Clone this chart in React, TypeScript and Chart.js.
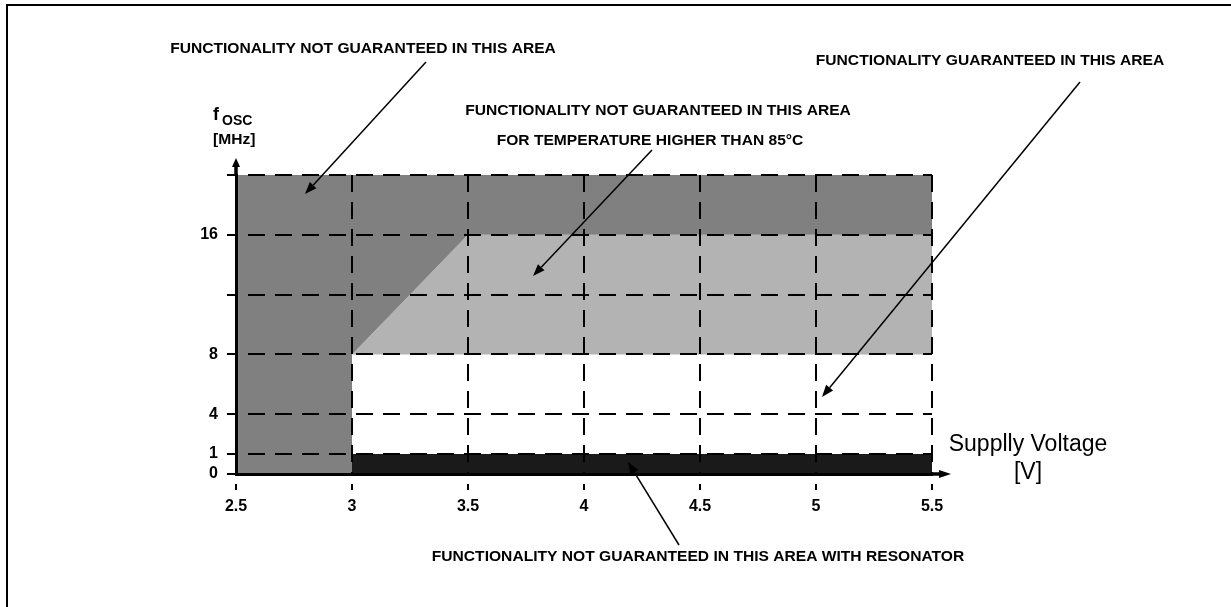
import React, { useEffect, useRef } from 'react';
import { Chart, registerables, LinearScale } from 'chart.js';

Chart.register(...registerables);

// ---------------- Data ----------------
const voltageTicks = [2.5, 3, 3.5, 4, 4.5, 5, 5.5];
const freqTicks = [0, 1, 4, 8, 12, 16, 20];
const freqTickLabels = ['0', '1', '4', '8', '', '16', ''];

// "Functionality not guaranteed" region: lower/right boundary, filled up to fMax
const notGuaranteedV = [2.5, 3, 3, 3.5, 5.5];
const notGuaranteedF = [0, 0, 8, 16, 16];
const fMax = 20;

// "Not guaranteed for temperature > 85°C" region: upper boundary, filled down to highTempFloor
const highTempV = [3, 3.5, 5.5];
const highTempF = [8, 16, 16];
const highTempFloor = 8;

// "Not guaranteed with resonator" region: 0..1 MHz
const resonatorV = [3, 5.5];
const resonatorF = [1, 1];
const resonatorFloor = 0;

const calloutTexts = [
  'FUNCTIONALITY NOT GUARANTEED IN THIS AREA',
  'FUNCTIONALITY NOT GUARANTEED IN THIS AREA',
  'FOR TEMPERATURE HIGHER THAN 85°C',
  'FUNCTIONALITY GUARANTEED IN THIS AREA',
  'FUNCTIONALITY NOT GUARANTEED IN THIS AREA WITH RESONATOR',
];

// ---------------- Layout (not data) ----------------
// relative position of each freq tick along the (non-linear) axis
const AXIS_STOPS = [0, 1, 3, 6, 9, 12, 15];
const FONT = '"Liberation Sans", Arial, Helvetica, sans-serif';
const TEXT_POS = [
  { x: 363, y: 53 },
  { x: 658, y: 115 },
  { x: 650, y: 145 },
  { x: 990, y: 65 },
  { x: 698, y: 561 },
];
const ARROWS = [
  { x0: 426, y0: 62, x1: 305, y1: 194 },
  { x0: 652, y0: 150, x1: 533, y1: 276 },
  { x0: 1080, y0: 82, x1: 822, y1: 397 },
  { x0: 679, y0: 545, x1: 628, y1: 462 },
];

function freqToStop(v: number): number {
  const t = freqTicks;
  const s = AXIS_STOPS;
  for (let i = 1; i < t.length; i++) {
    if (v <= t[i] || i === t.length - 1) {
      const r = (v - t[i - 1]) / (t[i] - t[i - 1]);
      return s[i - 1] + r * (s[i] - s[i - 1]);
    }
  }
  return 0;
}
function stopToFreq(u: number): number {
  const t = freqTicks;
  const s = AXIS_STOPS;
  for (let i = 1; i < s.length; i++) {
    if (u <= s[i] || i === s.length - 1) {
      const r = (u - s[i - 1]) / (s[i] - s[i - 1]);
      return t[i - 1] + r * (t[i] - t[i - 1]);
    }
  }
  return 0;
}

class SegmentedScale extends LinearScale {
  static id = 'segmented';
  getPixelForValue(value: any) {
    if (value === null || value === undefined || isNaN(value)) return NaN;
    const last = AXIS_STOPS[AXIS_STOPS.length - 1];
    return this.getPixelForDecimal(freqToStop(+value) / last);
  }
  getValueForPixel(pixel: number) {
    const last = AXIS_STOPS[AXIS_STOPS.length - 1];
    return stopToFreq(this.getDecimalForPixel(pixel) * last);
  }
}
Chart.register(SegmentedScale as any);

const pts = (xs: number[], ys: number[]) => xs.map((x, i) => ({ x, y: ys[i] }));

function drawText(ctx: CanvasRenderingContext2D, text: string, x: number, y: number, font: string, align: CanvasTextAlign, sx = 1) {
  ctx.save();
  ctx.font = font;
  ctx.textAlign = align;
  ctx.textBaseline = 'alphabetic';
  ctx.fillStyle = '#000';
  ctx.translate(x, y);
  ctx.scale(sx, 1);
  ctx.fillText(text, 0, 0);
  ctx.restore();
}

function drawArrow(ctx: CanvasRenderingContext2D, x0: number, y0: number, x1: number, y1: number, len: number, half: number, lw: number) {
  const a = Math.atan2(y1 - y0, x1 - x0);
  const bx = x1 - len * Math.cos(a);
  const by = y1 - len * Math.sin(a);
  ctx.save();
  ctx.strokeStyle = '#000';
  ctx.fillStyle = '#000';
  ctx.lineWidth = lw;
  ctx.beginPath();
  ctx.moveTo(x0, y0);
  ctx.lineTo(bx, by);
  ctx.stroke();
  ctx.beginPath();
  ctx.moveTo(x1, y1);
  ctx.lineTo(bx + half * Math.sin(a), by - half * Math.cos(a));
  ctx.lineTo(bx - half * Math.sin(a), by + half * Math.cos(a));
  ctx.closePath();
  ctx.fill();
  ctx.restore();
}

const annotationPlugin = {
  id: 'annotations',
  afterDraw(chart: any) {
    const ctx: CanvasRenderingContext2D = chart.ctx;
    const area = chart.chartArea;
    // frame
    ctx.save();
    ctx.strokeStyle = '#000';
    ctx.lineWidth = 2;
    ctx.beginPath();
    ctx.moveTo(7, chart.height + 5);
    ctx.lineTo(7, 5);
    ctx.lineTo(chart.width + 5, 5);
    ctx.stroke();
    ctx.restore();

    // axis arrows
    ctx.save();
    ctx.strokeStyle = '#000';
    ctx.lineWidth = 3;
    ctx.beginPath();
    ctx.moveTo(area.left, area.top + 1);
    ctx.lineTo(area.left, area.top - 9);
    ctx.moveTo(area.right - 1, area.bottom);
    ctx.lineTo(area.right + 8, area.bottom);
    ctx.stroke();
    ctx.restore();
    drawArrow(ctx, area.left, area.top, area.left, area.top - 17, 9, 4, 3);
    drawArrow(ctx, area.right, area.bottom, area.right + 19, area.bottom, 12, 4, 3);

    // callouts
    const calloutFont = `bold 15px ${FONT}`;
    calloutTexts.forEach((t, i) => drawText(ctx, t, TEXT_POS[i].x, TEXT_POS[i].y, calloutFont, 'center', 1.04));
    ARROWS.forEach((a) => drawArrow(ctx, a.x0, a.y0, a.x1, a.y1, 12, 4.5, 1.5));

    // axis titles
    drawText(ctx, 'f', 213, 120, `bold 18px ${FONT}`, 'left');
    drawText(ctx, 'OSC', 222, 125, `bold 14px ${FONT}`, 'left');
    drawText(ctx, '[MHz]', 213, 144, `bold 15px ${FONT}`, 'left', 1.04);
    drawText(ctx, 'Supplly Voltage', 1028, 451, `23px ${FONT}`, 'center');
    drawText(ctx, '[V]', 1028, 479, `23px ${FONT}`, 'center');
  },
};

const common = {
  showLine: true,
  borderColor: 'rgba(0,0,0,0)',
  borderWidth: 0,
  pointRadius: 0,
  pointHoverRadius: 0,
  tension: 0,
};

export default function App() {
  const ref = useRef<HTMLCanvasElement>(null);
  useEffect(() => {
    if (!ref.current) return;
    const chart = new Chart(ref.current, {
      type: 'line',
      data: {
        datasets: [
          { ...common, data: pts(notGuaranteedV, notGuaranteedF), fill: { value: fMax }, backgroundColor: '#808080' },
          { ...common, data: pts(highTempV, highTempF), fill: { value: highTempFloor }, backgroundColor: '#b3b3b3' },
          { ...common, data: pts(resonatorV, resonatorF), fill: { value: resonatorFloor }, backgroundColor: '#1a1a1a' },
        ] as any,
      },
      options: {
        animation: false,
        responsive: false,
        devicePixelRatio: 1,
        layout: { padding: { left: 0, top: 175, right: 299, bottom: 0 } },
        plugins: { legend: { display: false }, tooltip: { enabled: false } },
        events: [],
        scales: {
          x: {
            type: 'linear',
            min: voltageTicks[0],
            max: voltageTicks[voltageTicks.length - 1],
            afterBuildTicks: (axis: any) => {
              axis.ticks = voltageTicks.map((v) => ({ value: v }));
            },
            afterFit: (scale: any) => {
              scale.height = 133;
            },
            ticks: {
              autoSkip: false,
              maxRotation: 0,
              padding: 7,
              color: '#000',
              font: { family: FONT, size: 16, weight: 'bold' },
              callback: (v: any) => String(v),
            },
            grid: {
              z: 1,
              color: '#000',
              lineWidth: 2,
              tickLength: 16,
              tickWidth: 2,
              tickColor: '#000',
              tickBorderDash: [0, 8, 7, 100],
            },
            border: { z: 2, color: '#000', width: 3, dash: [17, 10], dashOffset: 0 },
          },
          y: {
            type: 'segmented',
            min: freqTicks[0],
            max: freqTicks[freqTicks.length - 1],
            afterBuildTicks: (axis: any) => {
              axis.ticks = freqTicks.map((v) => ({ value: v }));
            },
            afterFit: (scale: any) => {
              scale.width = 236;
            },
            ticks: {
              autoSkip: false,
              padding: 9,
              color: '#000',
              font: { family: FONT, size: 16, weight: 'bold' },
              callback: (_v: any, i: number) => freqTickLabels[i],
            },
            grid: {
              z: 1,
              color: '#000',
              lineWidth: 2,
              tickLength: 9,
              tickWidth: 2,
              tickColor: '#000',
            },
            border: { z: 2, color: '#000', width: 3, dash: [17, 10], dashOffset: 17 },
          },
        } as any,
      },
      plugins: [annotationPlugin],
    } as any);
    return () => chart.destroy();
  }, []);
  return (
    <div style={{ position: 'absolute', left: 0, top: 0, width: 1231, height: 607, background: '#fff' }}>
      <canvas ref={ref} width={1231} height={607} style={{ display: 'block' }} />
    </div>
  );
}
